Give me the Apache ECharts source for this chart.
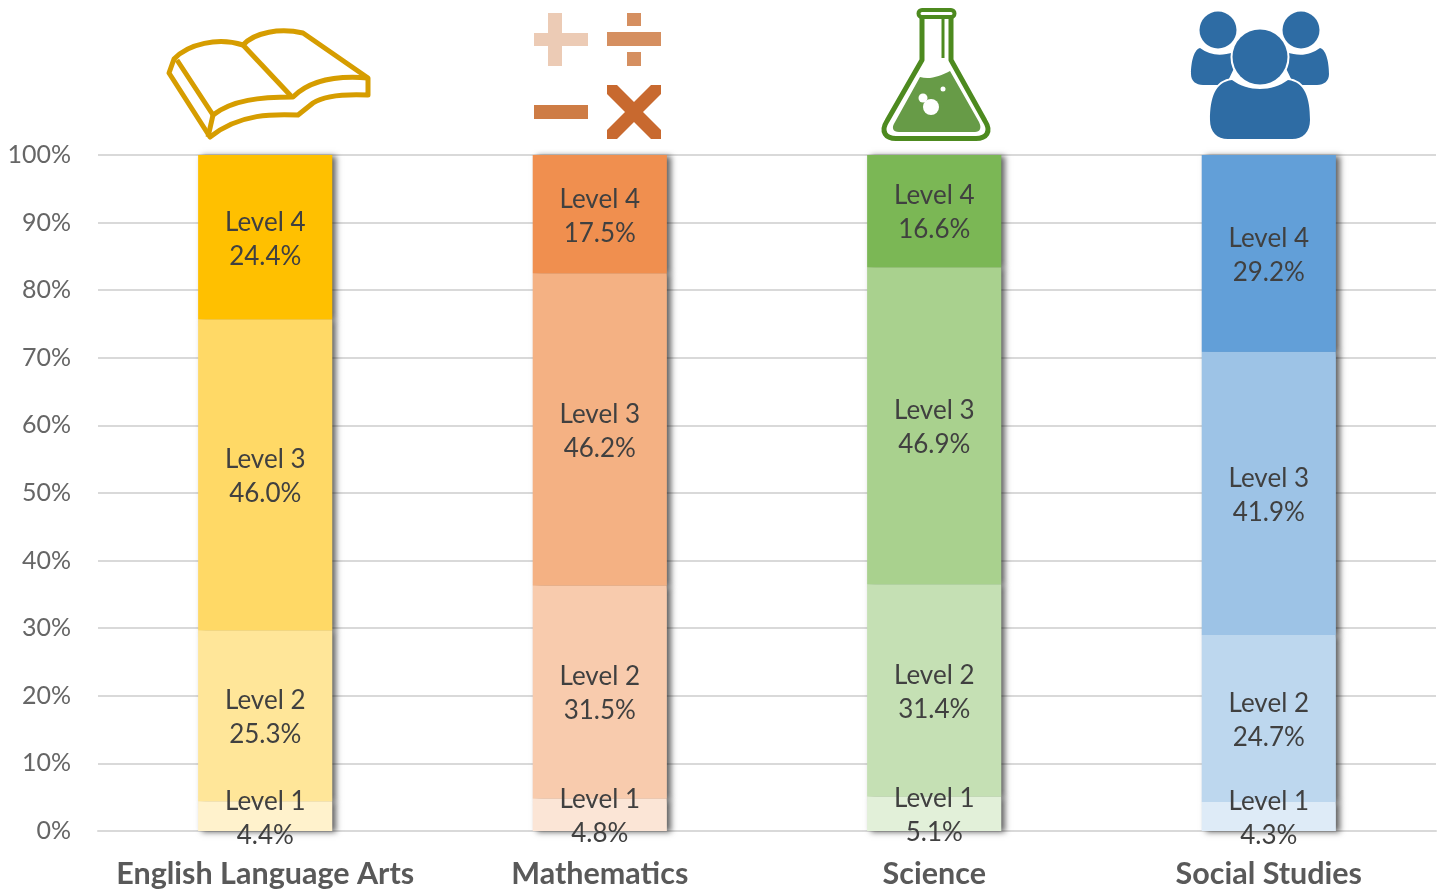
<!DOCTYPE html>
<html><head><meta charset="utf-8">
<style>html,body{margin:0;padding:0;background:#fff}#c{width:1442px;height:890px}</style>
<script src="https://cdn.jsdelivr.net/npm/echarts@6/dist/echarts.min.js"></script>
</head><body><div id="c"></div>
<script>
const categories = ['English Language Arts','Mathematics','Science','Social Studies'];
const level1 = [4.4,4.8,5.1,4.3];
const level2 = [25.3,31.5,31.4,24.7];
const level3 = [46.0,46.2,46.9,41.9];
const level4 = [24.4,17.5,16.6,29.2];
const levelNames = ['Level 1','Level 2','Level 3','Level 4'];
const colors1 = ['#FFF2CC','#FBE5D6','#E2F0D9','#DEEBF7'];
const colors2 = ['#FFE699','#F8CBAD','#C5E0B4','#BDD7EE'];
const colors3 = ['#FFD966','#F4B183','#A9D18E','#9DC3E6'];
const colors4 = ['#FFC000','#F08F4F','#7BB755','#629FD8'];
const FONT = 'Lato, "Open Sans", sans-serif';

function icon(x,y,w,h,body){
  const svg = `<svg xmlns="http://www.w3.org/2000/svg" width="${w}" height="${h}" viewBox="${x} ${y} ${w} ${h}">${body}</svg>`;
  return {type:'image',x:x,y:y,silent:true,style:{image:'data:image/svg+xml;charset=utf-8,'+encodeURIComponent(svg),width:w,height:h}};
}
const bookIcon = icon(160,24,220,124,`<g fill="none" stroke="#D69D00" stroke-width="5" stroke-linejoin="round">
<path d="M169,73 L174,59 C188,44 218,37 243,45 C255,32 280,28 303,33 L368,78 L368,95 C345,94 325,95 313,103 L298,115 C275,114 240,113 210,137 Z"/>
<path d="M177,60 L213,115 C232,100 260,97 293,97 C308,82 332,75 368,78"/>
<path d="M243,45 L291,96"/>
<path d="M213,115 L208,137"/></g>`);
const mathIcon = icon(530,8,136,136,`
<path fill="#ECCBB5" d="M548,13h14v20h26v13h-26v20h-14v-20h-14v-13h14z M534,33h14v13h-14z"/>
<path fill="#D58F60" d="M607,32h54v14h-54z M627,13h14v13h-14z M627,52h14v14h-14z"/>
<path fill="#CE7C45" d="M534,105h54v14h-54z"/>
<path fill="#C8692F" d="M607,94v-9h10l17,17l17,-17h10v9l-18,18l18,18v9h-10l-17,-17l-17,17h-10v-9l18,-18z"/>`);
const flaskIcon = icon(875,4,122,140,`
<path fill="#679B47" d="M920,77 C930,80 940,76 950,71 L979,122 C982,128 980,132 975,132 L899,132 C893,132 891,128 895,122 Z"/>
<circle cx="923" cy="98" r="4.5" fill="#fff"/><circle cx="931" cy="107" r="8" fill="#fff"/><circle cx="943" cy="89" r="2.5" fill="#fff"/>
<path fill="none" stroke="#4D8A1F" stroke-width="5" stroke-linejoin="round" d="M922,17 L922,60 L887,121 C880,132 886,138.5 896,138.5 L976,138.5 C986,138.5 992,132 985,121 L951,60 L951,17"/>
<rect x="918.5" y="10" width="36" height="7" rx="3.5" fill="none" stroke="#4D8A1F" stroke-width="4"/>
<path stroke="#4D8A1F" stroke-width="3" d="M943,18 V58"/>`);
const peopleIcon = icon(1186,6,148,138,`
<g fill="#2E6CA4">
<circle cx="1218" cy="30" r="18.5"/><circle cx="1301" cy="30" r="18.5"/>
<path d="M1200,48 C1193,50 1191,65 1191,74 C1191,81 1196,85 1203,85 L1226,85 L1238,60 L1234,52 C1220,57 1210,55 1200,48 Z"/>
<path d="M1320,48 C1327,50 1329,65 1329,74 C1329,81 1324,85 1317,85 L1294,85 L1282,60 L1286,52 C1300,57 1310,55 1320,48 Z"/>
<g stroke="#fff" stroke-width="4" paint-order="stroke">
<path d="M1232,80 C1215,82 1210,98 1210,120 C1210,132 1217,139 1228,139 L1292,139 C1303,139 1310,132 1310,120 C1310,98 1305,82 1288,80 C1280,86 1270,89 1260,89 C1250,89 1240,86 1232,80 Z"/>
<circle cx="1260" cy="57" r="27.5"/></g></g>`);

const BAR_W = '40%';
function shadowSeries(i,values,cols){
  return {
    type:'bar',name:levelNames[i]+' shadow',stack:'shadow',barWidth:BAR_W,barGap:'-100%',z:1,silent:true,
    data:values.map((v,k)=>({value:v,itemStyle:{color:cols[k],shadowColor:'rgba(0,0,0,0.62)',shadowBlur:6,shadowOffsetX:4,shadowOffsetY:1}})),
    emphasis:{disabled:true},tooltip:{show:false}
  };
}
function series(i,values,cols){
  return {
    type:'bar',name:levelNames[i],stack:'total',barWidth:BAR_W,barGap:'-100%',z:2,
    data:values.map((v,k)=>({value:v,itemStyle:{color:cols[k]}})),
    label:{show:true,position:'inside',offset:[0,2],color:'#404040',fontFamily:FONT,fontSize:26,lineHeight:34,
      formatter:p=>p.seriesName+'\n'+p.value.toFixed(1)+'%'},
    emphasis:{disabled:true}
  };
}
const chart = echarts.init(document.getElementById('c'));
chart.setOption({
  animation:false,backgroundColor:'#fff',
  grid:{left:98,right:6,top:155,bottom:59},
  xAxis:{type:'category',data:categories,
    axisLine:{lineStyle:{color:'#D9D9D9',width:2}},axisTick:{show:false},
    axisLabel:{interval:0,color:'#595959',fontFamily:FONT,fontSize:30.5,fontWeight:'bold',margin:28}},
  yAxis:{type:'value',min:0,max:100,interval:10,
    axisLine:{show:false},axisTick:{show:false},
    splitLine:{lineStyle:{color:'#D9D9D9',width:2}},
    axisLabel:{color:'#666666',fontFamily:FONT,fontSize:25,margin:27,padding:[2,0,0,0],formatter:'{value}%'}},
  series:[
    shadowSeries(0,level1,colors1),shadowSeries(1,level2,colors2),shadowSeries(2,level3,colors3),shadowSeries(3,level4,colors4),
    series(0,level1,colors1),series(1,level2,colors2),series(2,level3,colors3),series(3,level4,colors4)
  ],
  graphic:{elements:[bookIcon,mathIcon,flaskIcon,peopleIcon]}
});
</script></body></html>
